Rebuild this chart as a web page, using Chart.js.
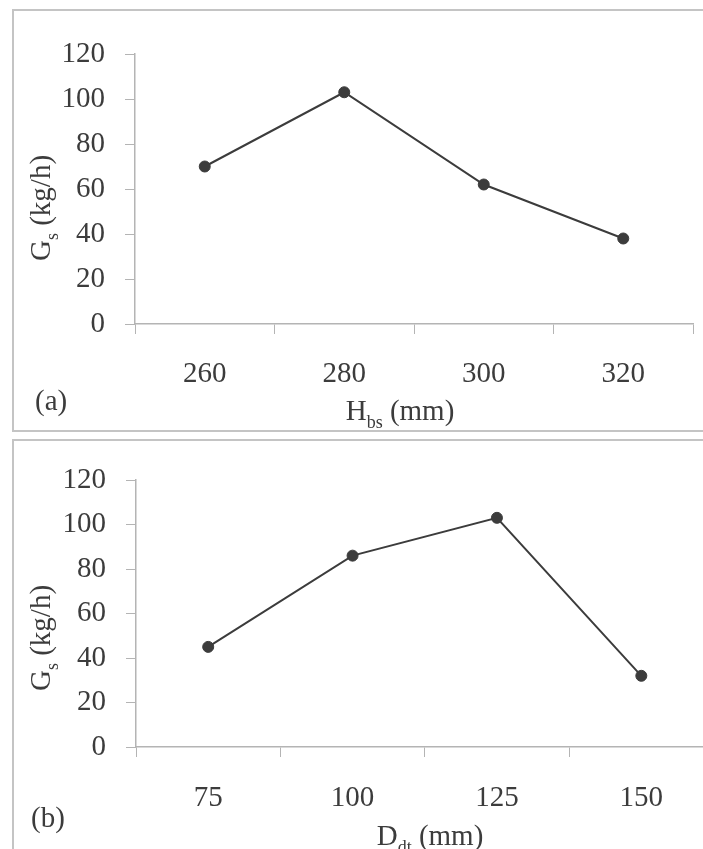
<!DOCTYPE html>
<html>
<head>
<meta charset="utf-8">
<script src="https://cdn.jsdelivr.net/npm/chart.js@4.4.1/dist/chart.umd.min.js"></script>
<style>
  html, body { margin: 0; padding: 0; background: #ffffff; width: 703px; height: 849px; overflow: hidden; position: relative; }
  .panel { position: absolute; border: 2px solid #c4c4c4; box-sizing: border-box; }
  canvas { position: absolute; left: 0; }
  .txt { position: absolute; font-family: "Liberation Serif", "Times New Roman", serif; font-size: 29px; color: #3c3c3c; white-space: nowrap; line-height: 1; }
  .sub { font-size: 18px; position: relative; top: 8px; }
  .ytitle { transform: translate(-50%, -50%) rotate(-90deg); }
  .ctr { transform: translate(-50%, -50%); }
  .lbl { transform: translate(0, -50%); }
</style>
</head>
<body>
<div class="panel" style="left:12px; top:9px; width:800px; height:423px;"></div>
<div class="panel" style="left:12px; top:439px; width:800px; height:460px;"></div>
<canvas id="chartA" width="720" height="432" style="top:0px;"></canvas>
<canvas id="chartB" width="720" height="417" style="top:432px;"></canvas>

<div class="txt ytitle" style="left:40px; top:208px;">G<span class="sub">s</span> (kg/h)</div>
<div class="txt lbl" style="left:35px; top:400px;">(a)</div>
<div class="txt ctr" style="left:400px; top:410px;">H<span class="sub">bs</span> (mm)</div>

<div class="txt ytitle" style="left:40px; top:638px;">G<span class="sub">s</span> (kg/h)</div>
<div class="txt lbl" style="left:31px; top:817px;">(b)</div>
<div class="txt ctr" style="left:430px; top:835px;">D<span class="sub">dt</span> (mm)</div>

<script>
// ---- Data ----
const categoriesA = ['260', '280', '300', '320'];   // H_bs (mm)
const valuesA = [70, 103, 62, 38];                    // G_s (kg/h)
const categoriesB = ['75', '100', '125', '150'];      // D_dt (mm)
const valuesB = [45, 86, 103, 32];                    // G_s (kg/h)
const yMin = 0, yMax = 120, yStep = 20;

const INK = '#3c3c3c';
const AXIS = '#b4b4b4';
const FONT = { family: '"Liberation Serif", "Times New Roman", serif', size: 29 };

function makeChart(id, labels, values, geom) {
  const ctx = document.getElementById(id).getContext('2d');
  return new Chart(ctx, {
    type: 'line',
    data: {
      labels: labels,
      datasets: [{
        data: values,
        borderColor: INK,
        backgroundColor: INK,
        borderWidth: 2,
        pointRadius: 5.5,
        pointBorderWidth: 1,
        pointBackgroundColor: INK,
        pointBorderColor: INK,
        tension: 0,
        fill: false
      }]
    },
    options: {
      responsive: false,
      animation: false,
      devicePixelRatio: 1,
      layout: { padding: { top: geom.top, left: 0, right: geom.right, bottom: 0 } },
      plugins: { legend: { display: false }, tooltip: { enabled: false } },
      scales: {
        x: {
          type: 'category',
          offset: true,
          grid: { display: true, drawOnChartArea: false, drawTicks: true, tickLength: 10, color: AXIS, offset: true },
          border: { display: true, color: AXIS, width: 1.5 },
          ticks: { color: INK, font: FONT, padding: geom.xPad, maxRotation: 0, autoSkip: false },
          afterFit: (s) => { s.height = geom.xHeight; }
        },
        y: {
          min: yMin, max: yMax,
          grid: { display: true, drawOnChartArea: false, drawTicks: true, tickLength: 10, color: AXIS },
          border: { display: true, color: AXIS, width: 1.5 },
          ticks: { stepSize: yStep, color: INK, font: FONT, padding: 20 },
          afterFit: (s) => { s.width = geom.yWidth; }
        }
      }
    }
  });
}

makeChart('chartA', categoriesA, valuesA, { top: 54, right: 27, xHeight: 108, yWidth: 135, xPad: 23 });
makeChart('chartB', categoriesB, valuesB, { top: 48, right: 6, xHeight: 102, yWidth: 136, xPad: 24 });
</script>
</body>
</html>
